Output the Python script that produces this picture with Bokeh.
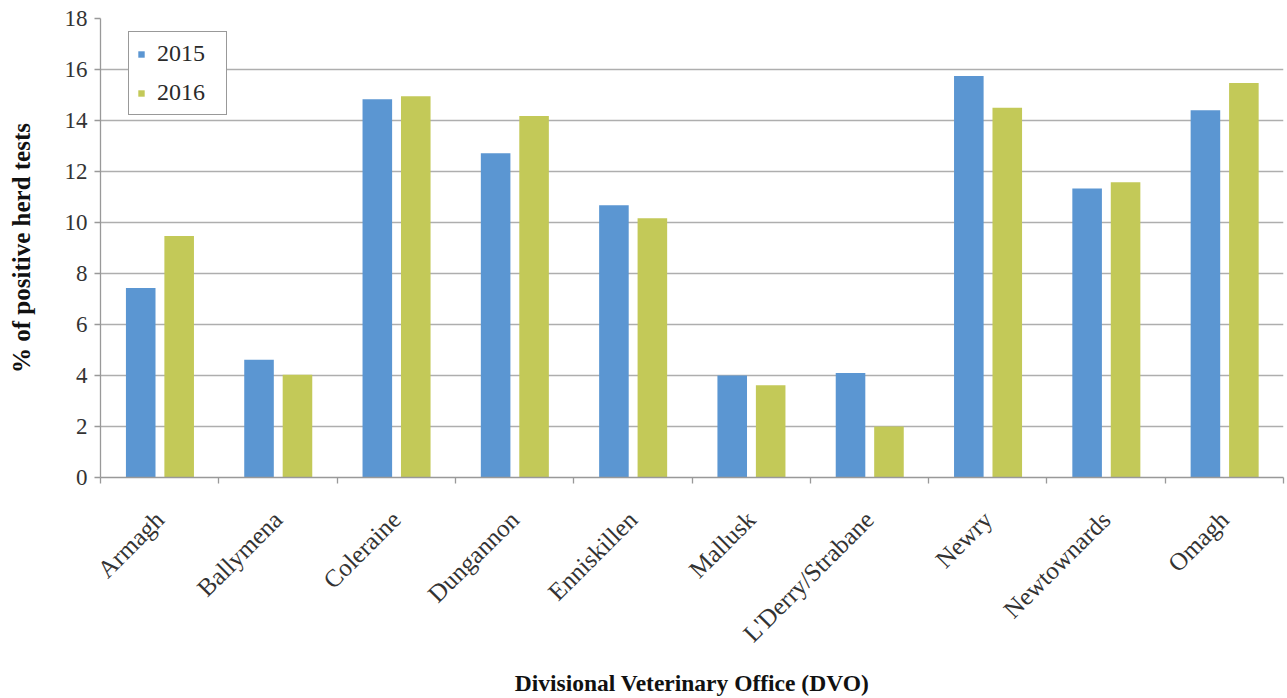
from math import pi

from bokeh.embed import file_html
from bokeh.models import (ColumnDataSource, FixedTicker, Legend, LegendItem,
                          LinearAxis, Range1d)
from bokeh.plotting import figure
from bokeh.resources import INLINE
from bokeh.transform import dodge

offices = ["Armagh", "Ballymena", "Coleraine", "Dungannon", "Enniskillen",
           "Mallusk", "L'Derry/Strabane", "Newry", "Newtownards", "Omagh"]
pct_2015 = [7.43, 4.62, 14.83, 12.72, 10.68, 4.0, 4.1, 15.75, 11.33, 14.4]
pct_2016 = [9.47, 4.03, 14.95, 14.18, 10.17, 3.62, 2.0, 14.5, 11.58, 15.47]
y_ticks = [0, 2, 4, 6, 8, 10, 12, 14, 16, 18]

BLUE = "#5B96D2"
GREEN = "#C3C958"
FONT = "Liberation Serif"
AXIS_GREY = "#999999"

# each office sits in the middle of its unit-wide slot
centers = [i + 0.5 for i in range(len(offices))]
bounds = list(range(len(offices) + 1))
src = ColumnDataSource(data=dict(pos=centers, y2015=pct_2015, y2016=pct_2016))

p = figure(width=1285, height=698, x_range=Range1d(0, len(offices)),
           y_range=Range1d(0, 18), x_axis_location=None,
           toolbar_location=None, output_backend="svg",
           min_border_left=100, min_border_right=2, min_border_top=18,
           min_border_bottom=221)
p.outline_line_color = None
p.background_fill_color = "white"

r15 = p.vbar(x=dodge("pos", -0.16), top="y2015", width=0.25,
             source=src, fill_color=BLUE, line_color=None)
r16 = p.vbar(x=dodge("pos", 0.165), top="y2016", width=0.25,
             source=src, fill_color=GREEN, line_color=None)

# labels at the slot centres, small tick marks between the slots
xaxis = LinearAxis(ticker=FixedTicker(ticks=centers, minor_ticks=bounds))
xaxis.major_label_overrides = {c: name for c, name in zip(centers, offices)}
xaxis.axis_line_color = AXIS_GREY
xaxis.axis_line_width = 1.3
xaxis.major_tick_line_color = None
xaxis.major_tick_out = 0
xaxis.major_tick_in = 0
xaxis.minor_tick_line_color = AXIS_GREY
xaxis.minor_tick_line_width = 1.3
xaxis.minor_tick_in = 0
xaxis.minor_tick_out = 6
xaxis.major_label_orientation = pi / 4
xaxis.major_label_standoff = 32
xaxis.major_label_text_font = FONT
xaxis.major_label_text_font_size = "25px"
xaxis.major_label_text_color = "#333333"
xaxis.axis_label = "Divisional Veterinary Office (DVO)"
xaxis.axis_label_text_font = FONT
xaxis.axis_label_text_font_size = "23.5px"
xaxis.axis_label_text_font_style = "bold"
xaxis.axis_label_text_color = "#111111"
xaxis.axis_label_standoff = 10
p.add_layout(xaxis, "below")

yaxis = p.yaxis[0]
yaxis.ticker = FixedTicker(ticks=y_ticks)
yaxis.axis_line_color = AXIS_GREY
yaxis.axis_line_width = 1.3
yaxis.major_tick_line_color = AXIS_GREY
yaxis.major_tick_line_width = 1.3
yaxis.major_tick_in = 0
yaxis.major_tick_out = 6
yaxis.minor_tick_line_color = None
yaxis.major_label_standoff = 7
yaxis.major_label_text_font = FONT
yaxis.major_label_text_font_size = "23px"
yaxis.major_label_text_color = "#333333"
yaxis.axis_label = "% of positive herd tests"
yaxis.axis_label_text_font = FONT
yaxis.axis_label_text_font_size = "25px"
yaxis.axis_label_text_font_style = "bold"
yaxis.axis_label_text_color = "#111111"
yaxis.axis_label_standoff = 27

p.xgrid.grid_line_color = None
p.ygrid.grid_line_color = "#aeaeae"
p.ygrid.grid_line_width = 1.5

legend = Legend(items=[LegendItem(label="2015", renderers=[r15]),
                       LegendItem(label="2016", renderers=[r16])],
                location=(28, 459 - 15 - 82))
legend.border_line_color = "#333333"
legend.border_line_width = 1.5
legend.background_fill_color = "white"
legend.background_fill_alpha = 1
legend.label_text_font = FONT
legend.label_text_font_size = "24px"
legend.label_text_color = "#2a2a2a"
legend.label_width = 61
legend.glyph_width = 8
legend.glyph_height = 8
legend.label_standoff = 12
legend.spacing = 12
legend.padding = 8
legend.margin = 0
p.add_layout(legend, "center")

open("out.html", "w").write(file_html(p, INLINE))
